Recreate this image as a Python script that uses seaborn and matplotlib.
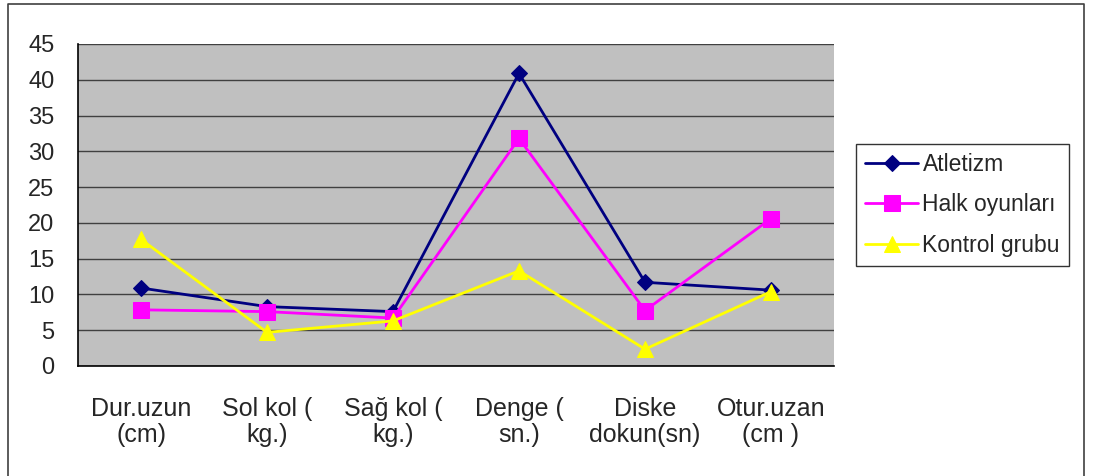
import numpy as np
import pandas as pd
import matplotlib
matplotlib.use("Agg")
import matplotlib.pyplot as plt
from matplotlib.lines import Line2D
import seaborn as sns

# data
categories = ["Dur.uzun\n(cm)", "Sol kol (\nkg.)", "Sağ kol (\nkg.)",
              "Denge (\nsn.)", "Diske\ndokun(sn)", "Otur.uzan\n(cm )"]
atletizm = [10.9, 8.3, 7.6, 40.9, 11.7, 10.6]
halk_oyunlari = [7.85, 7.6, 6.7, 31.8, 7.75, 20.6]
kontrol_grubu = [17.7, 4.7, 6.3, 13.3, 2.35, 10.4]

series_names = ["Atletizm", "Halk oyunları", "Kontrol grubu"]
series_values = [atletizm, halk_oyunlari, kontrol_grubu]
colors = ["#000080", "#FF00FF", "#FFFF00"]
markers = ["D", "s", "^"]
msizes = [8, 11, 11]

sns.set_style("white")
plt.rcParams["font.family"] = ["Liberation Sans", "DejaVu Sans"]

fig = plt.figure(figsize=(10.97, 4.76), dpi=100)
ax = fig.add_axes([78 / 1097, 1 - 366 / 476, (834 - 78) / 1097, (366 - 44) / 476])
ax.set_facecolor("#C0C0C0")

pos = np.arange(len(categories))
for name, vals, c, m, ms in zip(series_names, series_values, colors, markers, msizes):
    df = pd.DataFrame({"x": pos, "y": vals})
    sns.lineplot(data=df, x="x", y="y", ax=ax, color=c, marker=m, markersize=ms,
                 markeredgecolor=c, linewidth=2, label=name, zorder=3)

ax.set_xlim(-0.5, len(categories) - 0.5)
ax.set_ylim(0, 45)
ax.set_yticks(np.arange(0, 46, 5))
ax.yaxis.grid(True, color="#404040", linewidth=1)
ax.set_axisbelow(True)
ax.set_xticks(pos)
ax.set_xticklabels(categories, fontsize=18, linespacing=1.12)
ax.set_xticks(np.arange(-0.5, len(categories), 1), minor=True)
ax.tick_params(axis="x", which="major", length=0, pad=22)
ax.tick_params(axis="x", which="minor", length=6, width=1, color="black", direction="out")
ax.tick_params(axis="y", length=6, width=1, color="black", direction="out", labelsize=17, pad=11)
ax.set_xlabel("")
ax.set_ylabel("")

for s in ["top", "right"]:
    ax.spines[s].set_visible(False)
for s in ["left", "bottom"]:
    ax.spines[s].set_color("black")
    ax.spines[s].set_linewidth(1.2)

leg = ax.legend(loc="upper left", bbox_to_anchor=(856 / 1097, 1 - 144 / 476),
                bbox_transform=fig.transFigure, fontsize=16.5, frameon=True,
                fancybox=False, edgecolor="black", borderpad=0.4, labelspacing=0.75,
                handlelength=2.3, handletextpad=0.2, borderaxespad=0)
leg.get_frame().set_linewidth(1)

# outer chart frame (left, top, right)
x0, x1 = 8 / 1097, 1084 / 1097
yt = 1 - 4 / 476
fig.add_artist(Line2D([x0, x0, x1, x1], [0, yt, yt, 0], transform=fig.transFigure,
                      color="#404040", linewidth=1.2))

fig.savefig("out.png", dpi=100)
